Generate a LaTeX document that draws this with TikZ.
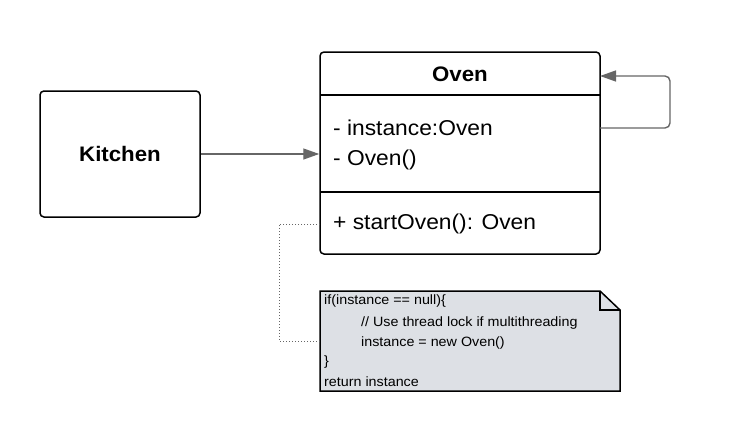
\documentclass[tikz,border=0pt]{standalone}
\usepackage{fontspec}
\setmainfont{Liberation Sans}[FakeStretch=1.06]
\usetikzlibrary{arrows.meta}
\definecolor{linegray}{HTML}{666666}
\definecolor{notefill}{HTML}{DDE0E5}
\begin{document}
\begin{tikzpicture}[x=1pt,y=-1pt,
  box/.style={draw=black,line width=1.5pt,rounded corners=4pt},
  conn/.style={draw=linegray,line width=1.4pt,-{Triangle[length=16pt,width=11pt]}},
  dotconn/.style={draw=linegray,line width=1pt,dotted},
  member/.style={anchor=west,font=\fontsize{21.5}{24}\selectfont,inner sep=0pt},
  notetext/.style={anchor=west,font=\fontsize{13.5}{15}\selectfont,inner sep=0pt}]
\useasboundingbox (0,0) rectangle (750,439);
% Kitchen
\node[box,minimum width=160pt,minimum height=126pt,font=\bfseries\fontsize{21}{24}\selectfont] (kitchen) at (120,154) {Kitchen};
% Oven class
\node[box,minimum width=280pt,minimum height=202pt,inner sep=0pt] (oven) at (460,153) {};
\draw[line width=1.5pt] (320,95) -- (600,95);
\draw[line width=1.5pt] (320,192) -- (600,192);
\node[font=\bfseries\fontsize{21}{24}\selectfont,inner sep=0pt] (title) at (460,74) {Oven};
\node[member] (m1) at (333,128) {- instance:Oven};
\node[member] (m2) at (333,160) {- Oven()};
\node[member] (m3) at (333,224) {+ startOven(): Oven};
% arrow kitchen -> oven
\draw[conn] (kitchen.east) -- (oven.west |- kitchen.east);
% self loop
\coordinate (loopstart) at (600,128);
\coordinate (loopend) at (600,76);
\draw[conn,rounded corners=5pt] (loopstart) -- (670,128) -- (670,76) -- (loopend);
% note
\draw[line width=1.5pt,fill=notefill] (320,291) -- (600,291) -- (620,310) -- (620,391) -- (320,391) -- cycle;
\draw[line width=1.2pt] (600,291) -- (600,310) -- (620,310);
\coordinate (note) at (320,341);
\node[notetext] (n1) at (324,301) {if(instance == null)\{};
\node[notetext] (n2) at (361,323) {// Use thread lock if multithreading};
\node[notetext] (n3) at (361,343) {instance = new Oven()};
\node[notetext] (n4) at (324,362) {\}};
\node[notetext] (n5) at (324,382) {return instance};
\coordinate (mref) at (320,224);
\draw[dotconn] (mref) -- (279,224) -- (279,341) -- (note);
\end{tikzpicture}
\end{document}
